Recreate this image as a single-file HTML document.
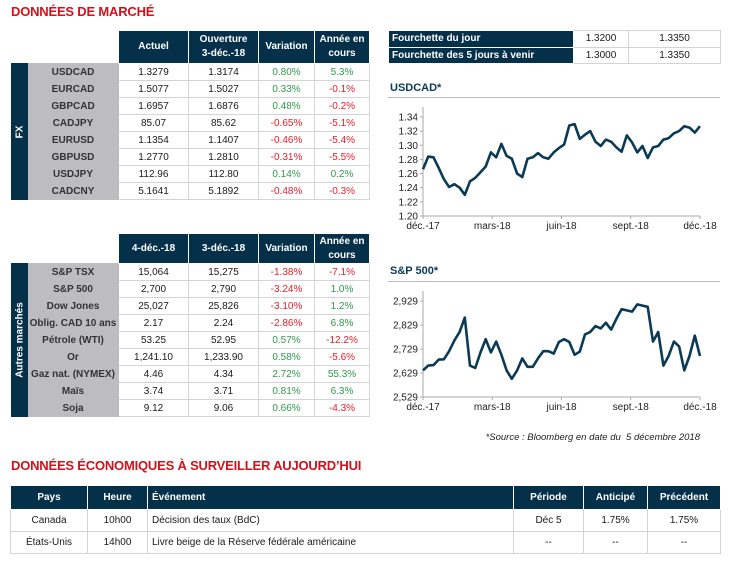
<!DOCTYPE html>
<html><head><meta charset="utf-8">
<style>
*{margin:0;padding:0;box-sizing:border-box}
body{width:732px;height:563px;background:#fff;position:relative;overflow:hidden;font-family:"Liberation Sans",sans-serif;color:#1a1a1a}
.title{position:absolute;color:#d0121b;font-weight:bold;font-size:13px;letter-spacing:-0.2px}
table{position:absolute;border-collapse:collapse;table-layout:fixed;font-size:10px}
td,th{border:1px solid #d4d4d4;text-align:center;padding:0;white-space:nowrap;overflow:hidden;vertical-align:middle}
th{background:#05304a;color:#fff;font-weight:bold;border:1px solid #fff;line-height:14px}
td.lab{background:#bdbdc0;border:1px solid #bdbdc0;font-weight:bold;color:#333}
td.band{background:#05304a;border:1px solid #05304a;color:#fff;font-weight:bold;position:relative}
td.band span{position:absolute;left:50%;top:50%;transform:translate(-50%,-50%) rotate(-90deg);white-space:nowrap;font-size:10px}
.g{color:#2e9b4a}.r{color:#e3202a}
th.blank{background:#fff;border:none}
.ctitle{position:absolute;color:#0b3a55;font-weight:bold;font-size:11px}
.rule{position:absolute;height:1px;background:#bbb}
#rt th,#rt td{line-height:12px}
</style></head><body>
<div class="title" style="left:11px;top:4px">DONNÉES DE MARCHÉ</div>

<table style="left:11px;top:30px;width:358px">
<colgroup><col style="width:16px"><col style="width:91px"><col style="width:70px"><col style="width:70px"><col style="width:56px"><col style="width:55px"></colgroup>
<tr style="height:33px"><th class="blank"></th><th class="blank"></th><th>Actuel</th><th>Ouverture<br>3-déc.-18</th><th>Variation</th><th>Année en<br>cours</th></tr>
<tr style="height:17px"><td class="band" rowspan="8"><span>FX</span></td><td class="lab">USDCAD</td><td>1.3279</td><td>1.3174</td><td class="g">0.80%</td><td class="g">5.3%</td></tr>
<tr style="height:17px"><td class="lab">EURCAD</td><td>1.5077</td><td>1.5027</td><td class="g">0.33%</td><td class="r">-0.1%</td></tr>
<tr style="height:17px"><td class="lab">GBPCAD</td><td>1.6957</td><td>1.6876</td><td class="g">0.48%</td><td class="r">-0.2%</td></tr>
<tr style="height:17px"><td class="lab">CADJPY</td><td>85.07</td><td>85.62</td><td class="r">-0.65%</td><td class="r">-5.1%</td></tr>
<tr style="height:17px"><td class="lab">EURUSD</td><td>1.1354</td><td>1.1407</td><td class="r">-0.46%</td><td class="r">-5.4%</td></tr>
<tr style="height:17px"><td class="lab">GBPUSD</td><td>1.2770</td><td>1.2810</td><td class="r">-0.31%</td><td class="r">-5.5%</td></tr>
<tr style="height:17px"><td class="lab">USDJPY</td><td>112.96</td><td>112.80</td><td class="g">0.14%</td><td class="g">0.2%</td></tr>
<tr style="height:17px"><td class="lab">CADCNY</td><td>5.1641</td><td>5.1892</td><td class="r">-0.48%</td><td class="r">-0.3%</td></tr>
</table>

<table style="left:11px;top:233px;width:358px">
<colgroup><col style="width:16px"><col style="width:91px"><col style="width:70px"><col style="width:70px"><col style="width:56px"><col style="width:55px"></colgroup>
<tr style="height:30px"><th class="blank"></th><th class="blank"></th><th>4-déc.-18</th><th>3-déc.-18</th><th>Variation</th><th>Année en<br>cours</th></tr>
<tr style="height:17px"><td class="band" rowspan="9"><span>Autres marchés</span></td><td class="lab">S&amp;P TSX</td><td>15,064</td><td>15,275</td><td class="r">-1.38%</td><td class="r">-7.1%</td></tr>
<tr style="height:17px"><td class="lab">S&amp;P 500</td><td>2,700</td><td>2,790</td><td class="r">-3.24%</td><td class="g">1.0%</td></tr>
<tr style="height:17px"><td class="lab">Dow Jones</td><td>25,027</td><td>25,826</td><td class="r">-3.10%</td><td class="g">1.2%</td></tr>
<tr style="height:17px"><td class="lab">Oblig. CAD 10 ans</td><td>2.17</td><td>2.24</td><td class="r">-2.86%</td><td class="g">6.8%</td></tr>
<tr style="height:17px"><td class="lab">Pétrole (WTI)</td><td>53.25</td><td>52.95</td><td class="g">0.57%</td><td class="r">-12.2%</td></tr>
<tr style="height:17px"><td class="lab">Or</td><td>1,241.10</td><td>1,233.90</td><td class="g">0.58%</td><td class="r">-5.6%</td></tr>
<tr style="height:17px"><td class="lab">Gaz nat. (NYMEX)</td><td>4.46</td><td>4.34</td><td class="g">2.72%</td><td class="g">55.3%</td></tr>
<tr style="height:17px"><td class="lab">Maïs</td><td>3.74</td><td>3.71</td><td class="g">0.81%</td><td class="g">6.3%</td></tr>
<tr style="height:17px"><td class="lab">Soja</td><td>9.12</td><td>9.06</td><td class="g">0.66%</td><td class="r">-4.3%</td></tr>
</table>

<table id="rt" style="left:388px;top:30px;width:332px">
<colgroup><col style="width:185px"><col style="width:55px"><col style="width:92px"></colgroup>
<tr style="height:17px"><th style="text-align:left;padding-left:3px">Fourchette du jour</th><td>1.3200</td><td>1.3350</td></tr>
<tr style="height:16px"><th style="text-align:left;padding-left:3px">Fourchette des 5 jours à venir</th><td>1.3000</td><td>1.3350</td></tr>
</table>

<div class="ctitle" style="left:390px;top:82px">USDCAD*</div>
<div class="rule" style="left:388px;top:97px;width:332px"></div>
<svg id="c1" style="position:absolute;left:380px;top:98px" width="350" height="140"></svg>

<div class="ctitle" style="left:390px;top:265px">S&amp;P 500*</div>
<div class="rule" style="left:388px;top:281px;width:332px"></div>
<svg id="c2" style="position:absolute;left:380px;top:282px" width="350" height="140"></svg>

<div style="position:absolute;left:480px;top:432px;width:220px;text-align:right;font-size:9.5px;font-style:italic;color:#222">*Source : Bloomberg en date du&nbsp; 5 décembre 2018</div>

<div class="title" style="left:11px;top:458px">DONNÉES ÉCONOMIQUES À SURVEILLER AUJOURD’HUI</div>
<table style="left:10px;top:485px;width:710px;font-size:10px">
<colgroup><col style="width:77px"><col style="width:60px"><col style="width:366px"><col style="width:70px"><col style="width:64px"><col style="width:73px"></colgroup>
<tr style="height:24px"><th>Pays</th><th>Heure</th><th style="text-align:left;padding-left:4px">Événement</th><th>Période</th><th>Anticipé</th><th>Précédent</th></tr>
<tr style="height:22px"><td>Canada</td><td>10h00</td><td style="text-align:left;padding-left:4px">Décision des taux (BdC)</td><td>Déc 5</td><td>1.75%</td><td>1.75%</td></tr>
<tr style="height:22px"><td>États-Unis</td><td>14h00</td><td style="text-align:left;padding-left:4px">Livre beige de la Réserve fédérale américaine</td><td>--</td><td>--</td><td>--</td></tr>
</table>

<script>
const xLabels=["déc.-17","mars-18","juin-18","sept.-18","déc.-18"];
const usdTicks=[1.20,1.22,1.24,1.26,1.28,1.30,1.32,1.34];
const usdValues=[1.266,1.284,1.283,1.268,1.252,1.241,1.245,1.240,1.230,1.249,1.254,1.262,1.270,1.290,1.283,1.302,1.285,1.281,1.260,1.255,1.281,1.283,1.289,1.283,1.281,1.290,1.296,1.301,1.328,1.330,1.309,1.315,1.320,1.305,1.299,1.308,1.305,1.297,1.291,1.314,1.304,1.290,1.299,1.282,1.297,1.299,1.308,1.310,1.317,1.320,1.327,1.325,1.318,1.327];
const spTicks=[2529,2629,2729,2829,2929];
const spValues=[2640,2660,2662,2685,2686,2720,2765,2800,2860,2660,2650,2715,2770,2715,2760,2705,2640,2605,2640,2690,2655,2655,2690,2720,2720,2710,2758,2770,2758,2705,2718,2790,2800,2825,2815,2838,2810,2855,2895,2890,2885,2915,2910,2905,2760,2800,2660,2700,2760,2740,2640,2700,2785,2700];
const NS="http://www.w3.org/2000/svg";
function mk(svg,tag,attrs){const e=document.createElementNS(NS,tag);for(const k in attrs)e.setAttribute(k,attrs[k]);svg.appendChild(e);return e;}
function chart(id,vals,ticks,fmt,y0,y1){
  const svg=document.getElementById(id);
  const x0=43,x1=320;
  const lo=ticks[0],hi=ticks[ticks.length-1];
  const ys=v=>y0-(v-lo)/(hi-lo)*(y0-y1);
  const xs=i=>x0+i/(vals.length-1)*(x1-x0);
  const ax=mk(svg,'line',{x1:x0,y1:y1-10,x2:x0,y2:y0,stroke:'#aaa','stroke-width':1});
  
  
  const bx=mk(svg,'line',{x1:x0,y1:y0,x2:x1,y2:y0,stroke:'#aaa','stroke-width':1});
  
  
  ticks.forEach(t=>{
    mk(svg,'line',{x1:x0-3,y1:ys(t),x2:x0,y2:ys(t),stroke:'#aaa'});
    const tx=mk(svg,'text',{x:x0-5,y:ys(t)+3.5,'text-anchor':'end','font-size':'10','font-family':'Liberation Sans, sans-serif',fill:'#222'});
    tx.textContent=fmt(t);
    
    
  });
  xLabels.forEach((l,i)=>{
    const x=x0+i/(xLabels.length-1)*(x1-x0);
    mk(svg,'line',{x1:x,y1:y0,x2:x,y2:y0+3,stroke:'#aaa'});
    const tx=mk(svg,'text',{x:x,y:y0+13,'text-anchor':'middle','font-size':'10','font-family':'Liberation Sans, sans-serif',fill:'#222'});
    tx.textContent=l;
    
    
  });
  const p=mk(svg,'polyline',{points:vals.map((v,i)=>xs(i).toFixed(1)+','+ys(v).toFixed(1)).join(' '),fill:'none',stroke:'#0b3a55','stroke-width':2.6,'stroke-linejoin':'round'});
  
  
}
chart('c1',usdValues,usdTicks,t=>t.toFixed(2),118,19);
chart('c2',spValues,spTicks,t=>t.toLocaleString('en-US'),115,19);
</script>
</body></html>
